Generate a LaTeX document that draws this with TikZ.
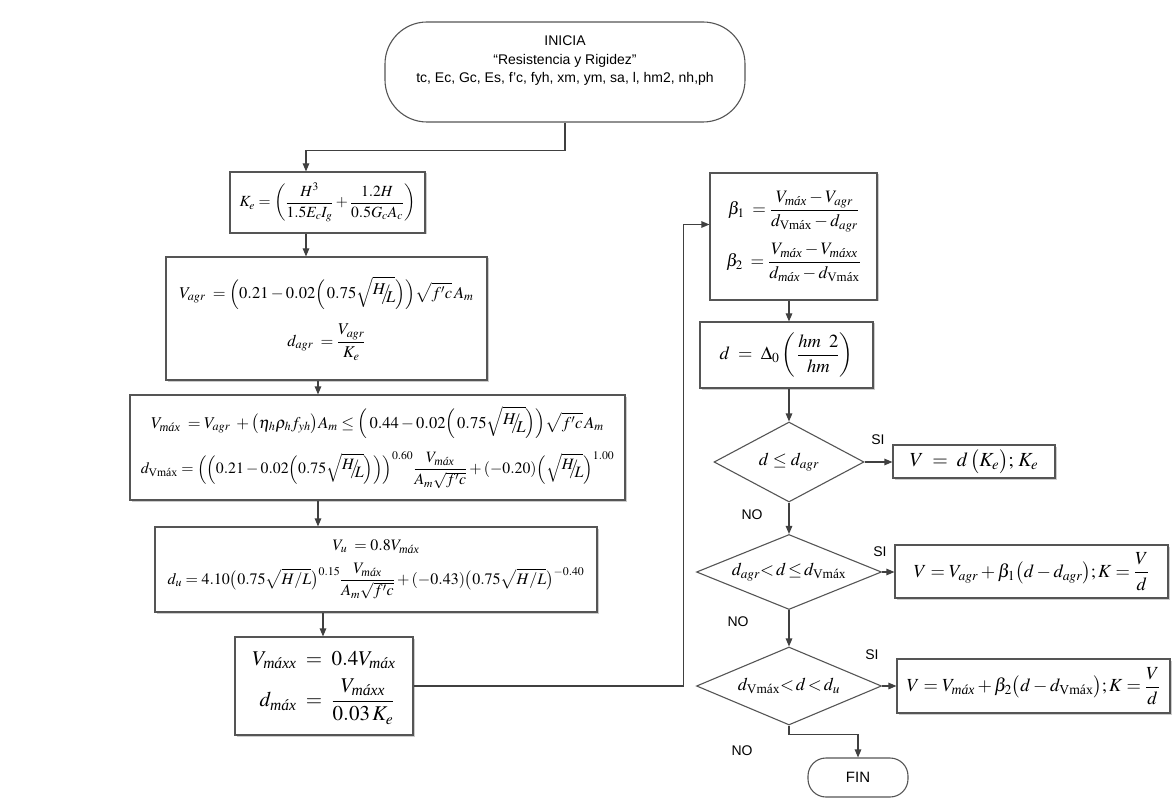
\documentclass[tikz,border=0pt]{standalone}
\usepackage{amsmath,amssymb}
\usepackage{mathptmx}
\usepackage[no-math]{fontspec}
\setmainfont{Liberation Sans}
\newfontfamily\tms{Liberation Serif}
\usetikzlibrary{arrows.meta,shapes.geometric,shadows}

\definecolor{linec}{HTML}{404040}
\definecolor{boxc}{HTML}{555555}

% subscripts and the slanted H/L quotient
\newcommand{\mx}{\text{\tms\itshape máx}}
\newcommand{\mxx}{\text{\tms\itshape máxx}}
\newcommand{\vmx}{\text{\tms Vmáx}}
\newcommand{\HL}{\raisebox{0.25em}{$H$}\mkern-5mu\big/\mkern-5mu\raisebox{-0.25em}{$L$}}

\tikzset{
  ln/.style={draw=linec, line width=1.1pt},
  arr/.style={ln, -{Triangle[length=8pt,width=6.5pt]}},
  box/.style={rectangle, draw=boxc, line width=1.1pt, fill=white, inner sep=0pt, align=center,
    drop shadow={shadow xshift=1.5pt, shadow yshift=-1.5pt, fill=black!20, opacity=1}},
  f16/.style={font=\fontsize{16.5}{20}\selectfont},
  dec/.style={diamond, draw=boxc, line width=1.1pt, fill=white, inner sep=0pt, aspect=2.4,
    font=\fontsize{18}{22}\selectfont},
  term/.style={rectangle, draw=boxc, line width=1.1pt, fill=white, inner sep=0pt},
  lbl/.style={font=\fontsize{14}{17}\selectfont, inner sep=0pt}
}

\begin{document}
\begin{tikzpicture}[x=1pt, y=-1pt]
\useasboundingbox (0,0) rectangle (1172,799);
\fill[white] (0,0) rectangle (1172,799);

% start terminal
\node[term, rounded corners=42pt, minimum width=360pt, minimum height=100pt] (start) at (565,72) {};
\node[align=center, inner sep=0pt, font=\fontsize{14}{18.5}\selectfont] (starttxt) at (565,61)
  {INICIA\\“Resistencia y Rigidez”\\tc, Ec, Gc, Es, f’c, fyh, xm, ym, sa, l, hm2, nh,ph};

% left column
\node[box, font=\fontsize{15.5}{19}\selectfont, minimum width=195pt, minimum height=61pt] (ke) at (327.5,202.5)
  {$\displaystyle K_e=\left(\frac{H^3}{1.5E_cI_g}+\frac{1.2H}{0.5G_cA_c}\right)$};

\node[box, f16, minimum width=321pt, minimum height=123pt] (vagr) at (326.5,318.5)
  {$\displaystyle V_{agr}\;=\Bigl(0.21-0.02\Bigl(\,0.75\sqrt{\HL}\Bigr)\Bigr)\sqrt{f'c}\,A_m$\\[14pt]
   $\displaystyle d_{agr}\;=\frac{V_{agr}}{K_e}$};

\node[box, font=\fontsize{16.5}{19}\selectfont, minimum width=495pt, minimum height=105pt] (vmax) at (377.5,447.5)
  {$\displaystyle V_{\mx}\;=V_{agr}\;+\bigl(\eta_h\rho_h f_{yh}\bigr)A_m\le\Bigl(\,0.44-0.02\Bigl(\,0.75\sqrt{\HL}\Bigr)\Bigr)\sqrt{f'c}\,A_m$\\[12pt]
   {\fontsize{15.8}{19}\selectfont$\displaystyle d_{\vmx}=\Bigl(\Bigl(0.21-0.02\Bigl(0.75\sqrt{\HL}\Bigr)\Bigr)\Bigr)^{0.60}\frac{V_{\mx}}{A_m\sqrt{f'c}}+(-0.20)\Bigl(\sqrt{\HL}\Bigr)^{1.00}$}};

\node[box, font=\fontsize{16}{18}\selectfont, minimum width=442pt, minimum height=85pt] (vu) at (376,569.5)
  {$\displaystyle V_u\;=0.8V_{\mx}$\\[9pt]
   $\displaystyle d_u=4.10\bigl(0.75\sqrt{H/L}\bigr)^{0.15}\frac{V_{\mx}}{A_m\sqrt{f'c}}+(-0.43)\bigl(0.75\sqrt{H/L}\bigr)^{-0.40}$};

\node[box, font=\fontsize{21}{25}\selectfont, minimum width=178pt, minimum height=98pt] (vmaxx) at (324,686)
  {$\displaystyle\begin{aligned}V_{\mxx}\;&=\;0.4V_{\mx}\\[2pt] d_{\mx}\;&=\;\frac{V_{\mxx}}{0.03\,K_e}\end{aligned}$};

% right column
\node[box, font=\fontsize{17.5}{21}\selectfont, minimum width=167pt, minimum height=127pt] (beta) at (793.5,236.5)
  {$\displaystyle\beta_1\;=\frac{V_{\mx}-V_{agr}}{d_{\vmx}-d_{agr}}$\\[10pt]
   $\displaystyle\beta_2\;=\frac{V_{\mx}-V_{\mxx}}{d_{\mx}-d_{\vmx}}$};

\node[box, font=\fontsize{18.5}{22}\selectfont, minimum width=173pt, minimum height=66pt] (dbox) at (786.5,355)
  {$\displaystyle d\;=\;\Delta_0\left(\,\frac{hm\;\;2}{hm}\right)$};

\node[dec, minimum width=150pt, minimum height=80pt] (q1) at (789,462) {$d\le d_{agr}$};
\node[dec, minimum width=185pt, minimum height=75pt] (q2) at (789,572) {$d_{agr}{<}\,d\,{\le}\,d_{\vmx}$};
\node[dec, minimum width=185pt, minimum height=78pt] (q3) at (789,686) {$d_{\vmx}{<}\,d\,{<}\,d_u$};

\node[box, font=\fontsize{20}{24}\selectfont, minimum width=162pt, minimum height=33pt] (r1) at (974,461.5)
  {$V\;=\;d\,\bigl(K_e\bigr);\,K_e$};
\node[box, font=\fontsize{18.5}{22}\selectfont, minimum width=273pt, minimum height=53pt] (r2) at (1031.5,571.5)
  {$\displaystyle V=V_{agr}+\beta_1\bigl(d-d_{agr}\bigr);K=\frac{V}{d}$};
\node[box, font=\fontsize{18.5}{22}\selectfont, minimum width=273pt, minimum height=54pt] (r3) at (1033.5,686)
  {$\displaystyle V=V_{\mx}+\beta_2\bigl(d-d_{\vmx}\bigr);K=\frac{V}{d}$};

\node[term, rounded corners=18pt, minimum width=100pt, minimum height=39pt,
      font=\fontsize{15}{18}\selectfont] (fin) at (858,777.5) {FIN};

% branch labels
\node[lbl] (si1) at (878,440) {SI};
\node[lbl] (no1) at (752,515) {NO};
\node[lbl] (si2) at (880,552) {SI};
\node[lbl] (no2) at (738,622) {NO};
\node[lbl] (si3) at (872,655) {SI};
\node[lbl] (no3) at (742,751) {NO};

% connectors
\draw[arr] (start.south) -- ++(0,28) -| ([xshift=-21.5pt]ke.north);
\draw[arr] ([xshift=-21.5pt]ke.south) -- ([xshift=-20.5pt]vagr.north);
\draw[arr] ([xshift=-8.5pt]vagr.south) -- ([xshift=-59.5pt]vmax.north);
\draw[arr] ([xshift=-59.5pt]vmax.south) -- ([xshift=-58pt]vu.north);
\draw[arr] ([xshift=-53pt]vu.south) -- ([xshift=-1pt]vmaxx.north);
\draw[arr] (vmaxx.east) -- ++(270,0) |- ([yshift=12pt]beta.west);
\draw[arr] (beta.south -| q1.north) -- (dbox.north -| q1.north);
\draw[arr] (dbox.south -| q1.north) -- (q1.north);
\draw[arr] (q1.east) -- (q1.east -| r1.west);
\draw[arr] (q1.south) -- (q2.north);
\draw[arr] (q2.east) -- (q2.east -| r2.west);
\draw[arr] (q2.south) -- (q3.north);
\draw[arr] (q3.east) -- (r3.west);
\draw[arr] (q3.south) -- ++(0,9) -| (fin.north);
\end{tikzpicture}
\end{document}
